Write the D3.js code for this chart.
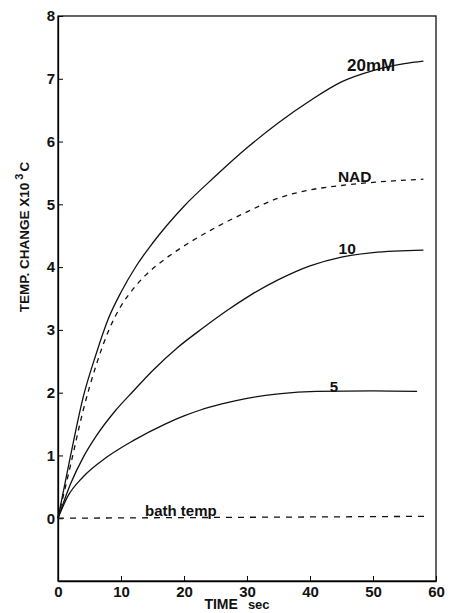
<!DOCTYPE html>
<html>
<head>
<meta charset="utf-8">
<script src="https://cdn.jsdelivr.net/npm/d3@7"></script>
<style>
  body { margin: 0; background: #fff; }
  text { font-family: "Liberation Sans", Arial, sans-serif; fill: #111; }
</style>
</head>
<body>
<svg id="chart"></svg>
<script>
// Time (sec) and temperature change (x10^-3 C)
const mM20 = [[0,0],[2,1.0],[4,1.93],[6,2.6],[8,3.18],[10,3.6],[12.5,4.03],[15,4.38],[20,4.97],[25,5.45],[30,5.9],[35,6.3],[40,6.65],[45,6.95],[50,7.13],[55,7.24],[58,7.28]];
const nad = [[0,0],[2,0.85],[4,1.72],[6,2.42],[8,2.98],[10,3.38],[12,3.66],[14,3.88],[17,4.13],[21,4.4],[25,4.63],[30,4.88],[35,5.1],[40,5.23],[45,5.3],[50,5.35],[58,5.4]];
const mM10 = [[0,0],[2,0.55],[4,0.97],[6,1.3],[9,1.7],[12,2.03],[15,2.35],[19,2.72],[23,3.03],[27,3.32],[30.5,3.55],[35,3.8],[40,4.02],[45,4.16],[50,4.23],[58,4.27]];
const mM5 = [[0,0],[1.5,0.34],[4,0.66],[7.7,0.97],[12,1.24],[17,1.5],[20,1.63],[22.5,1.72],[26,1.82],[30,1.91],[35,1.98],[41,2.02],[50,2.03],[57,2.02]];
const bath = [[0,0],[20,0.01],[40,0.02],[58.5,0.03]];

const xTicks = [0, 10, 20, 30, 40, 50, 60];
const yTicks = [0, 1, 2, 3, 4, 5, 6, 7, 8];

const width = 450, height = 613;
const svg = d3.select('#chart').attr('width', width).attr('height', height);

const x = d3.scaleLinear().domain([0, 60]).range([58, 436]);
const y = d3.scaleLinear().domain([-1, 8]).range([581, 16]);

// frame
svg.append('rect')
  .attr('x', x(0)).attr('y', y(8))
  .attr('width', x(60) - x(0)).attr('height', y(-1) - y(8))
  .attr('fill', 'none').attr('stroke', '#111').attr('stroke-width', 1.3);

// x axis (ticks point inward)
const gx = svg.append('g')
  .attr('transform', `translate(0,${y(-1)})`)
  .call(d3.axisBottom(x).tickValues(xTicks).tickSizeInner(-5).tickSizeOuter(0).tickPadding(5));
gx.select('.domain').attr('stroke-width', 1.3);
gx.selectAll('text').attr('font-size', 15).attr('font-weight', 'bold')
  .attr('font-family', '"Liberation Sans", Arial, sans-serif').attr('fill', '#111');

// y axis (ticks point inward)
const gy = svg.append('g')
  .attr('transform', `translate(${x(0)},0)`)
  .call(d3.axisLeft(y).tickValues(yTicks).tickSizeInner(-5).tickSizeOuter(0).tickPadding(3));
gy.select('.domain').attr('stroke-width', 1.3);
gy.selectAll('text').attr('font-size', 15).attr('font-weight', 'bold')
  .attr('font-family', '"Liberation Sans", Arial, sans-serif').attr('fill', '#111');

// curves
const line = d3.line()
  .x(d => x(d[0]))
  .y(d => y(d[1]))
  .curve(d3.curveMonotoneX);

const series = [
  { data: mM20, dash: null },
  { data: nad, dash: '5,5' },
  { data: mM10, dash: null },
  { data: mM5, dash: null },
  { data: bath, dash: '6,6' }
];
series.forEach(s => {
  svg.append('path')
    .attr('d', line(s.data))
    .attr('fill', 'none')
    .attr('stroke', '#111')
    .attr('stroke-width', 1.3)
    .attr('stroke-dasharray', s.dash);
});

// curve labels (anchored at their data position, baseline just above)
const labels = [
  { text: '20mM', t: 49.7, v: 7.1, size: 17 },
  { text: 'NAD', t: 47.1, v: 5.32, size: 15.5 },
  { text: '10', t: 45.9, v: 4.18, size: 15.5 },
  { text: '5', t: 43.8, v: 1.98, size: 15 },
  { text: 'bath temp', t: 19.5, v: 0, size: 15 }
];
labels.forEach(l => {
  svg.append('text')
    .attr('x', x(l.t)).attr('y', y(l.v) - 2)
    .attr('text-anchor', 'middle')
    .attr('font-size', l.size)
    .attr('font-weight', 'bold')
    .text(l.text);
});

// axis titles
const xt = svg.append('text')
  .attr('x', 237).attr('y', 609)
  .attr('text-anchor', 'middle')
  .attr('font-weight', 'bold');
xt.append('tspan').attr('font-size', 14).text('TIME');
xt.append('tspan').attr('font-size', 13).attr('dx', 10).text('sec');

const yt = svg.append('text')
  .attr('transform', 'translate(29,237) rotate(-90)')
  .attr('text-anchor', 'middle')
  .attr('font-size', 13.5)
  .attr('font-weight', 'bold');
yt.append('tspan').text('TEMP. CHANGE X10');
yt.append('tspan').attr('dy', -6).attr('dx', 3).attr('font-size', 11).text('3');
yt.append('tspan').attr('dy', 6).attr('dx', 2).text('C');
</script>
</body>
</html>
